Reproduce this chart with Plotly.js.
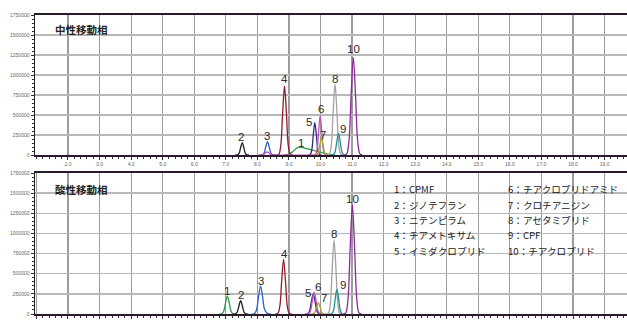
<!DOCTYPE html>
<html>
<head>
<meta charset="utf-8">
<script src="https://cdn.plot.ly/plotly-3.0.1.min.js"></script>
<style>html,body{margin:0;padding:0;background:#fff;}#chart{width:627px;height:320px;}</style>
</head>
<body>
<div id="chart"></div>
<script>
// ---- data ----
const compounds = ['CPMF','ジノテフラン','ニテンピラム','チアメトキサム','イミダクロプリド',
                   'チアクロプリドアミド','クロチアニジン','アセタミプリド','CPF','チアクロプリド'];
const panelTitles = ['中性移動相','酸性移動相'];
const yTickVals = [0,250000,500000,750000,1000000,1250000,1500000,1750000];
const neutralXTicks = [2,3,4,5,6,7,8,9,10,11,12,13,14,15,16,17,18,19];
const acidXTicks = [1,2,3,4,5,6,7,8,9,10,11,12,13,14,15,16,17,18,19];

// neutral mobile phase: retention time (min) and intensity
const neutralX = [
  [8.85,9.0,9.12,9.24,9.34,9.46,9.6,9.8,10.0,10.15,10.3,10.45],
  [7.3,7.37,7.42,7.47,7.52,7.57,7.62,7.67,7.74],
  [8.08,8.15,8.21,8.265,8.32,8.375,8.43,8.49,8.56],
  [8.6,8.68,8.74,8.80,8.86,8.92,8.98,9.04,9.12],
  [9.60,9.67,9.72,9.77,9.82,9.87,9.92,9.97,10.04],
  [8.05,8.13,8.19,8.25,8.31,8.37,8.43,8.49,8.57,9.77,9.84,9.89,9.94,9.99,10.04,10.09,10.14,10.21],
  [9.81,9.88,9.93,9.98,10.03,10.08,10.13,10.18,10.25],
  [10.2,10.28,10.34,10.40,10.46,10.52,10.58,10.64,10.72],
  [10.33,10.405,10.46,10.515,10.57,10.625,10.68,10.735,10.81],
  [10.76,10.83,10.90,10.97,11.04,11.11,11.18,11.25,11.32]
];
const neutralY = [
  [0,10000,42000,84000,96000,90000,76000,55000,36000,20000,5000,0],
  [0,2000,21000,93000,154000,93000,21000,2000,0],
  [0,2000,22000,100000,166000,100000,22000,2000,0],
  [0,9500,116000,520000,862000,520000,116000,9500,0],
  [0,4400,55000,245000,404000,245000,55000,4400,0],
  [0,500,5400,24000,40000,24000,5400,500,0,0,5000,66000,295000,491000,295000,66000,5000,0],
  [0,2300,29000,128000,212000,128000,29000,2300,0],
  [0,9800,120000,538000,887000,538000,120000,9800,0],
  [0,3000,37000,164000,271000,164000,37000,3000,0],
  [0,13500,165000,740000,1221000,740000,165000,13500,0]
];
// acidic mobile phase
const acidX = [
  [6.79,6.87,6.93,6.99,7.05,7.11,7.17,7.23,7.31],
  [7.23,7.305,7.36,7.415,7.47,7.525,7.58,7.635,7.71],
  [7.82,7.905,7.97,8.035,8.10,8.165,8.23,8.31,8.42],
  [8.57,8.65,8.71,8.77,8.83,8.89,8.95,9.01,9.09],
  [9.51,9.59,9.65,9.71,9.77,9.83,9.89,9.95,10.03],
  [9.54,9.62,9.68,9.74,9.80,9.86,9.92,9.98,10.06],
  [9.69,9.765,9.82,9.875,9.93,9.985,10.04,10.095,10.17],
  [10.17,10.25,10.31,10.37,10.43,10.49,10.55,10.61,10.69],
  [10.28,10.355,10.41,10.465,10.52,10.575,10.63,10.685,10.76],
  [10.73,10.80,10.87,10.94,11.01,11.08,11.15,11.22,11.30]
];
const acidY = [
  [0,2500,30000,135000,223000,135000,30000,2500,0],
  [0,1800,22000,100000,165000,100000,22000,1800,0],
  [0,3800,47000,210000,347000,215000,55000,8000,0],
  [0,7500,92000,410000,679000,410000,92000,7500,0],
  [0,2700,34000,150000,250000,150000,34000,2700,0],
  [0,3000,36000,163000,270000,163000,36000,3000,0],
  [0,1500,19000,85000,140000,85000,19000,1500,0],
  [0,10000,124000,555000,918000,555000,124000,10000,0],
  [0,3300,41000,185000,306000,185000,41000,3300,0],
  [0,15000,183000,820000,1353000,820000,183000,15000,0]
];

// ---- styles ----
const colors = ['#2f9a4a','#1e1e1e','#2d62c4','#8e1c2c','#2b2b86','#c24fb5','#a5a232','#a3a3a3','#25908e','#8c2a9c'];
// label offsets in pixels (dx, dy) relative to peak top
const neutralLabelOff = [[1,4],[-1,6],[-0.5,5.5],[0,7],[-6,1],[1,7],[1.5,3.5],[0,5],[4.5,4],[0,8.5]];
const acidLabelOff = [[0,5.3],[0,5.4],[0,5],[0.5,5.3],[-5.5,1],[3.7,5.5],[6,4.7],[0,6],[5.7,4.3],[0,6]];

const traces = [];
const annotations = [];
function addPanel(X, Y, xa, ya, off) {
  for (let i = 0; i < X.length; i++) {
    traces.push({x: X[i], y: Y[i], xaxis: xa, yaxis: ya, type: 'scatter', mode: 'lines',
      line: {color: colors[i], width: 1.3, shape: 'spline', smoothing: 1}, hoverinfo: 'skip', showlegend: false});
    let k = 0; for (let j = 0; j < Y[i].length; j++) if (Y[i][j] > Y[i][k]) k = j;
    annotations.push({x: X[i][k], y: Y[i][k], xref: xa, yref: ya, text: String(i + 1), showarrow: false,
      xanchor: 'center', yanchor: 'middle', xshift: off[i][0], yshift: off[i][1],
      font: {family: 'Liberation Sans, Arial, sans-serif', size: 11.5, color: '#2a2a2a'}});
  }
}
addPanel(neutralX, neutralY, 'x', 'y', neutralLabelOff);
addPanel(acidX, acidY, 'x2', 'y2', acidLabelOff);

// panel titles
annotations.push({x: 1.52, y: 1575000, xref: 'x', yref: 'y', text: '<b>' + panelTitles[0] + '</b>', showarrow: false,
  xanchor: 'left', yanchor: 'middle', font: {family: 'Noto Sans CJK JP', size: 10.5, color: '#222'}});
annotations.push({x: 1.52, y: 1551000, xref: 'x2', yref: 'y2', text: '<b>' + panelTitles[1] + '</b>', showarrow: false,
  xanchor: 'left', yanchor: 'middle', font: {family: 'Noto Sans CJK JP', size: 10.5, color: '#222'}});
// legend text in lower panel
for (let i = 0; i < compounds.length; i++) {
  const col = i < 5 ? 0 : 1, row = i % 5;
  annotations.push({x: col === 0 ? 12.25 : 15.87, y: 1548000 - row * 190500, xref: 'x2', yref: 'y2',
    text: (i + 1) + '：' + compounds[i], showarrow: false, xanchor: 'left', yanchor: 'middle',
    font: {family: 'Noto Sans CJK JP', size: 9.6, color: '#1a1a1a'}});
}

function xAxis(anchor, ticks) {
  return {anchor: anchor, domain: [0, 1], range: [0.955, 19.71], tickmode: 'array', tickvals: ticks,
    ticktext: ticks.map(v => v.toFixed(1)), ticks: 'outside', ticklen: 3, tickwidth: 1, tickcolor: '#333',
    minor: {tickmode: 'linear', tick0: 0, dtick: 0.2, ticks: 'outside', ticklen: 2, tickcolor: '#333', showgrid: false},
    showgrid: true, gridcolor: '#9c9c9c', gridwidth: 1.2, zeroline: false,
    showline: true, linecolor: '#2b1a2b', linewidth: 2, mirror: true, layer: 'above traces',
    tickfont: {family: 'Liberation Sans, Arial', size: 5, color: '#666'}, fixedrange: true};
}
function yAxis(anchor, domain) {
  return {anchor: anchor, domain: domain, range: [0, 1750000], tickmode: 'array', tickvals: yTickVals,
    ticktext: yTickVals.map(v => String(v)), ticks: 'outside', ticklen: 3, tickwidth: 1, tickcolor: '#333',
    minor: {tickmode: 'linear', tick0: 0, dtick: 50000, ticks: 'outside', ticklen: 2, tickcolor: '#333', showgrid: false},
    showgrid: true, gridcolor: '#b8b8b8', gridwidth: 1.4, zeroline: false,
    showline: true, linecolor: '#222', linewidth: 1.5, layer: 'above traces',
    tickfont: {family: 'Liberation Sans, Arial', size: 5, color: '#666'}, fixedrange: true};
}

const layout = {
  width: 627, height: 320, margin: {l: 35, r: 0, t: 0, b: 0},
  paper_bgcolor: '#fff', plot_bgcolor: '#fff', showlegend: false,
  xaxis: xAxis('y', neutralXTicks),
  yaxis: yAxis('x', [1 - 155 / 320, 1 - 15 / 320]),
  xaxis2: xAxis('y2', acidXTicks),
  yaxis2: yAxis('x2', [1 - 314 / 320, 1 - 173 / 320]),
  annotations: annotations
};
Plotly.newPlot('chart', traces, layout, {staticPlot: true, displayModeBar: false});
</script>
</body>
</html>
